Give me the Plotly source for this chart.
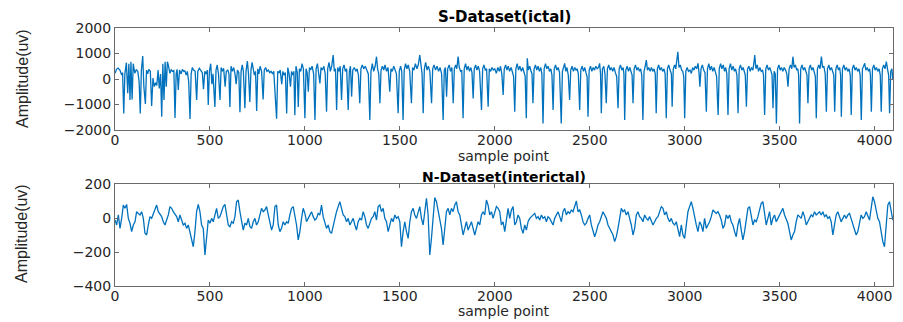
import numpy as np
import plotly.graph_objects as go

# ---------------- data ----------------
# S-Dataset (ictal): turning points (sample index, amplitude uV)
ictal_seg1 = [(0,220),(8,380),(16,430),(26,350),(35,160),(40,250),(46,-1350),(52,200),(60,640),(67,-560),(73,600),(79,-820),(84,680),(90,-800),(96,600),(104,230),(112,360),(120,300),(127,-100),(133,-1350),(139,350),(146,900),(152,-300),(160,-980),(166,350),(172,200),(178,380),(186,300),(193,-1060),(200,40),(207,-300),(214,-150),(220,-250),(227,350),(233,-370),(240,200),(246,-1480),(252,600),(258,-820),(264,680),(270,-300),(276,680),(282,500),(289,220),(296,360),(303,300),(310,330),(316,-1530),(322,200),(327,380),(333,-430),(340,350),(348,200),(355,380),(362,300),(368,320),(375,150),(381,300),(388,-100),(395,-1570),(401,200),(407,450),(414,350),(422,300),(430,-820),(436,300),(444,420),(452,350),(460,250),(466,-400),(473,300),(480,200),(486,350),(491,-1020),(497,300),(504,600),(510,-200),(516,200),(520,-600),(526,-1100),(532,350),(538,550),(545,200),(553,-820),(559,450),(565,300),(572,420),(580,-300),(586,300),(594,350),(600,200),(605,-1100),(611,500),(618,300),(625,450),(632,200),(638,-200),(645,350),(652,250),(658,-1300),(664,300),(670,550),(676,300),(684,-1150),(690,300),(697,700),(703,200),(710,-900),(716,350),(722,650),(728,400),(734,150),(740,300),(746,-1250),(752,400),(758,200),(764,500),(772,300),(780,-800),(786,350),(793,450),(800,300),(808,350),(815,250),(822,300),(830,200),(836,300),(842,-300),(851,-1560),(857,300),(864,250),(870,350),(878,-200),(884,300),(890,150),(897,250),(904,-1350),(910,450),(917,200),(924,-300),(930,300),(936,150),(942,300),(947,-1420),(953,500),(960,250),(965,-1100),(971,400),(978,300),(985,600),(992,400)]
ictal_seg2 = [(1000,-1540),(1006,400),(1012,250),(1018,-500),(1024,450),(1030,350),(1038,500),(1046,200),(1053,-1610),(1059,400),(1066,600),(1072,300),(1079,-170),(1085,450),(1092,350),(1100,500),(1107,200),(1114,-1280),(1120,400),(1127,650),(1134,300),(1141,500),(1149,940),(1155,300),(1161,400),(1167,-1215),(1173,450),(1180,300),(1186,500),(1193,-820),(1199,400),(1206,550),(1213,300),(1220,400),(1228,-1215),(1234,300),(1240,500),(1246,-690),(1252,350),(1260,450),(1268,300),(1275,400),(1282,150),(1289,-950),(1295,400),(1302,550),(1310,400),(1318,500),(1326,350),(1334,200),(1342,-1610),(1348,300),(1355,600),(1362,300),(1370,500),(1377,875),(1383,400),(1389,200),(1395,-950),(1401,350),(1408,500),(1415,350),(1422,550),(1430,300),(1438,450),(1447,-500),(1453,400),(1460,300),(1468,500),(1475,350),(1482,200),(1491,-1345),(1497,300),(1504,500),(1510,300),(1517,-1610),(1523,350),(1530,600),(1537,400),(1544,550),(1552,300),(1561,-950),(1567,450),(1574,350),(1582,600),(1590,400),(1597,550),(1605,940),(1611,500),(1617,200),(1623,-1345),(1629,400),(1636,650),(1643,350),(1650,500),(1658,300),(1667,-950),(1673,400),(1680,550),(1688,350),(1696,500),(1704,300),(1712,450),(1720,200),(1728,-1610),(1734,350),(1740,450),(1746,-690),(1752,400),(1760,550),(1767,300),(1774,450),(1781,-950),(1787,400),(1794,550),(1800,400),(1807,875),(1813,450),(1820,300),(1826,350),(1833,-1540),(1839,400),(1846,600),(1853,350),(1860,500),(1867,300),(1874,450),(1880,250),(1886,-760),(1892,400),(1899,550),(1906,350),(1913,500),(1920,300),(1930,-1215),(1936,400),(1943,550),(1950,350),(1957,400),(1965,-1085),(1971,400),(1978,300),(1985,450),(1992,350),(2000,400)]
ictal_seg3 = [(2008,220),(2016,450),(2024,300),(2030,500),(2037,200),(2044,-630),(2050,400),(2057,550),(2064,350),(2071,500),(2078,300),(2086,450),(2093,250),(2099,100),(2105,-1280),(2111,400),(2118,600),(2125,350),(2132,500),(2140,300),(2147,450),(2153,250),(2160,100),(2166,-1540),(2171,810),(2177,350),(2184,500),(2191,300),(2196,200),(2201,-950),(2207,400),(2214,550),(2221,350),(2228,500),(2235,300),(2242,450),(2248,200),(2254,-1740),(2260,400),(2267,600),(2274,400),(2281,500),(2288,300),(2295,400),(2301,150),(2307,-1215),(2313,400),(2320,550),(2327,350),(2334,450),(2341,250),(2350,-1740),(2356,300),(2362,450),(2368,615),(2374,300),(2380,450),(2387,150),(2394,-820),(2400,350),(2407,500),(2414,300),(2421,450),(2428,350),(2434,400),(2440,200),(2447,-1215),(2453,350),(2460,500),(2467,300),(2474,450),(2480,250),(2486,100),(2491,-1480),(2497,350),(2504,500),(2511,300),(2518,450),(2525,350),(2532,500),(2539,400),(2546,450),(2552,615),(2557,200),(2561,-1345),(2567,400),(2574,500),(2580,200),(2587,-950),(2593,400),(2600,550),(2607,350),(2614,450),(2621,300),(2628,450),(2635,250),(2642,100),(2649,-1150),(2655,400),(2662,550),(2669,350),(2676,450),(2680,200),(2684,-1610),(2690,350),(2697,500),(2704,300),(2711,450),(2718,300),(2723,150),(2728,-950),(2734,400),(2741,550),(2748,350),(2755,450),(2762,300),(2768,400),(2774,150),(2780,-1610),(2786,300),(2792,500),(2798,745),(2804,350),(2811,450),(2818,300),(2825,450),(2832,300),(2839,400),(2845,200),(2850,-1345),(2856,400),(2863,550),(2870,350),(2877,450),(2884,300),(2891,400),(2897,200),(2903,-1540),(2909,400),(2916,550),(2923,350),(2930,200),(2934,-1085),(2940,400),(2947,550),(2953,400),(2958,700),(2964,1070),(2970,450),(2977,550),(2984,350),(2990,300),(2995,100),(3000,-1540),(3006,300),(3013,450),(3020,300),(3028,350),(3035,220),(3042,450),(3049,350),(3056,500),(3063,400),(3070,615)]
ictal_seg4 = [(3076,200),(3080,-300),(3086,400),(3093,550),(3100,350),(3107,250),(3114,-1280),(3120,400),(3127,600),(3134,350),(3141,500),(3148,300),(3155,450),(3162,250),(3168,100),(3176,-1410),(3182,400),(3189,600),(3196,400),(3203,550),(3210,300),(3216,450),(3222,200),(3228,-1410),(3234,400),(3241,600),(3248,350),(3255,500),(3262,300),(3268,400),(3275,150),(3281,-1345),(3287,400),(3294,550),(3301,350),(3308,450),(3314,300),(3319,150),(3325,-1085),(3331,400),(3338,500),(3345,300),(3352,450),(3359,350),(3364,600),(3369,940),(3375,400),(3382,550),(3389,300),(3396,450),(3403,300),(3410,350),(3415,150),(3421,-1410),(3427,400),(3434,550),(3441,350),(3448,450),(3455,300),(3460,150),(3465,-1150),(3471,300),(3477,200),(3483,-1740),(3489,400),(3496,550),(3503,350),(3510,450),(3517,300),(3524,450),(3531,350),(3538,200),(3544,-300),(3550,400),(3557,550),(3564,400),(3570,875),(3576,450),(3583,550),(3590,350),(3596,400),(3600,150),(3605,-1740),(3611,400),(3618,550),(3625,350),(3632,450),(3638,300),(3644,150),(3649,-950),(3655,400),(3662,550),(3669,350),(3676,450),(3682,300),(3688,100),(3693,-1540),(3699,400),(3706,550),(3713,400),(3720,875),(3726,450),(3733,500),(3740,200),(3746,-1280),(3752,400),(3759,550),(3766,350),(3773,450),(3779,300),(3785,150),(3790,-1280),(3796,400),(3803,550),(3810,350),(3816,450),(3821,150),(3825,-1480),(3831,400),(3838,550),(3845,350),(3852,450),(3859,300),(3866,400),(3872,150),(3877,-1410),(3883,400),(3890,550),(3897,350),(3904,450),(3911,300),(3918,400),(3924,150),(3930,-1610),(3936,400),(3942,500),(3948,615),(3954,350),(3961,450),(3968,300),(3974,400),(3978,150),(3983,-1280),(3989,400),(3996,550),(4003,350),(4010,450),(4017,300),(4024,400),(4030,150),(4035,-1280),(4041,400),(4048,550),(4055,400),(4062,680),(4068,400),(4074,150),(4079,-1345),(4085,300),(4091,400),(4096,0)]

# N-Dataset (interictal): amplitude (uV) read at evenly spaced sample positions
inter_part1 = [-12,-41,18,-61,-2,76,57,80,-2,-31,-80,-41,-22,37,27,18,37,-2,-90,-100,-41,8,-2,27,57,76,37,18,8,-22,-41,-12,18,67,57,37,18,8,-22,18,-12,-41,-31,-61,-41,-90,-139,-169,-80,37,80,37,-41,-61,-218,-100,-12,-31,-2,-22,18,57,-2,8,37,67,80,18,-41,-51,-22,-31,8,96,106,37,-22,-71,-31,-41,-2,-51,-61,-22,-2,-41,-22,18,57,37,47,67,18,-22,-71,-41,67,76,-41,-80,-61,-22,-41,-22,-31,18,57,67,18,-41,-129]
inter_part2 = [-80,-2,57,27,-22,-2,18,37,8,-12,-2,27,18,76,8,-22,-61,-41,-80,-90,-41,8,37,67,96,57,18,8,-22,-2,-41,-22,-2,-41,-71,-22,-2,-12,37,8,-41,-61,-31,-2,8,37,-12,67,76,37,57,-2,-22,-80,-41,-2,-22,18,-2,8,-22,-169,-80,-22,-80,-120,-22,37,57,18,-2,37,67,-2,-41,37,116,18,-218,-120,-2,120,96,37,-2,-61,-159,-61,37,57,18,57,37,76,96,37,18,-41,-100,-61,-22,-71,-41,-22,-61,-100,-61,-22,-41,18,37,18,106,76,18,37,-2,37,67,57]
inter_part3 = [37,-41,-22,-80,-2,57,-2,47,67,-41,-22,18,-2,-61,-90,-41,-71,-22,-2,8,18,27,-2,8,-12,18,-2,8,-22,8,-2,-22,-41,-2,18,37,8,-22,37,57,18,37,27,47,37,76,100,37,47,18,-22,-41,-31,-2,18,-41,-71,-110,-80,-41,-22,8,37,18,-2,-41,-61,-80,-100,-139,-110,-61,-2,57,37,47,18,37,-2,-41,-100,-61,18,37,8,-2,-22,18,-2,-12,8,-22,-41,-22,-2,8,37,67,57,18,37,-2,-22,-2,-31,-41,-22,-61,-110,-41,-100,-120,-22,37,67,96,57,-2,-41,-80]
inter_part4 = [-22,-41,-80,-2,-61,-41,-22,8,47,37,27,37,18,-12,-61,-41,18,-2,18,-22,-41,-80,-110,-41,-2,-71,-129,-80,-2,57,67,-2,-41,-12,-22,8,47,86,96,18,-41,-2,37,-41,-2,18,-22,-2,18,37,57,18,-2,-31,-80,-129,-100,-80,-22,18,8,-2,37,8,-41,-22,-2,18,8,37,18,27,37,18,37,8,18,-2,8,-22,-100,-41,18,37,8,-22,-2,18,-2,18,27,-2,-31,-61,-100,-80,-22,18,-2,8,37,8,-12,57,125,96,37,-2,-22,-90,-139,-169,-41,76,96,37,-12]

n_samples = 4097
x_ticks = [0, 500, 1000, 1500, 2000, 2500, 3000, 3500, 4000]
s_yticks = [-2000, -1000, 0, 1000, 2000]
n_yticks = [-400, -200, 0, 200]

titles = ["S-Dataset(ictal)", "N-Dataset(interictal)"]
x_label = "sample point"
y_label = "Amplitude(uv)"

# ---------------- build ----------------
ictal_pts = ictal_seg1 + ictal_seg2 + ictal_seg3 + ictal_seg4
ictal_idx = [p[0] for p in ictal_pts]
ictal_uv = [p[1] for p in ictal_pts]
inter_uv = inter_part1 + inter_part2 + inter_part3 + inter_part4
inter_idx = np.linspace(0, n_samples - 1, len(inter_uv))

# page body has an 8px default margin: size the figure so it fills the window
OFF = 8
W, H = 903 - OFF, 322 - OFF
LINE = "#0072BD"
AX = "#6a6a6a"
TXT = "#262626"
FONT = "DejaVu Sans"

fig = go.Figure()
fig.add_trace(go.Scatter(x=ictal_idx, y=ictal_uv, mode="lines",
                         line=dict(color=LINE, width=1.3), xaxis="x", yaxis="y",
                         showlegend=False, hoverinfo="skip"))
fig.add_trace(go.Scatter(x=inter_idx, y=inter_uv, mode="lines",
                         line=dict(color=LINE, width=1.3), xaxis="x2", yaxis="y2",
                         showlegend=False, hoverinfo="skip"))

def px_x(p):
    return (p - OFF) / W

def px_y(p):
    return 1 - (p - OFF) / H

xdom = [px_x(115), px_x(893)]
common_x = dict(range=[0, n_samples], tickvals=x_ticks, ticks="inside", ticklen=4,
                tickcolor=AX, showline=True, linecolor=AX, linewidth=1, mirror="ticks",
                showgrid=False, zeroline=False, domain=xdom, automargin=False,
                ticklabelstandoff=-3,
                tickfont=dict(family=FONT, size=14, color=TXT))
common_y = dict(ticks="inside", ticklen=4, tickcolor=AX, showline=True, linecolor=AX,
                linewidth=1, mirror="ticks", showgrid=False, zeroline=False, automargin=False,
                tickfont=dict(family=FONT, size=14, color=TXT))

fig.update_layout(
    template="none",
    width=W, height=H,
    margin=dict(l=0, r=0, t=0, b=0, autoexpand=False),
    paper_bgcolor="white", plot_bgcolor="white",
    xaxis=dict(**common_x, anchor="y"),
    yaxis=dict(**common_y, range=[-2000, 2000], tickvals=s_yticks,
               domain=[px_y(130), px_y(28)], anchor="x"),
    xaxis2=dict(**common_x, anchor="y2"),
    yaxis2=dict(**common_y, range=[-400, 200], tickvals=n_yticks,
                domain=[px_y(286), px_y(184)], anchor="x2"),
)

ann = []
xc = (115 + 893) / 2
common_ann = dict(xref="paper", yref="paper", showarrow=False, xanchor="center", yanchor="middle")
ann.append(dict(text="<b>" + titles[0] + "</b>", x=px_x(xc), y=px_y(17),
                font=dict(family=FONT, size=15, color="black"), **common_ann))
ann.append(dict(text="<b>" + titles[1] + "</b>", x=px_x(xc), y=px_y(177),
                font=dict(family=FONT, size=14, color="black"), **common_ann))
for yy in (156, 311):
    ann.append(dict(text=x_label, x=px_x(xc), y=px_y(yy),
                    font=dict(family=FONT, size=14, color=TXT), **common_ann))
for yy in (79, 234):
    ann.append(dict(text=y_label, x=px_x(22), y=px_y(yy), textangle=-90,
                    font=dict(family="Liberation Sans", size=16, color=TXT), **common_ann))
fig.update_layout(annotations=ann)

fig.write_html("out.html")
